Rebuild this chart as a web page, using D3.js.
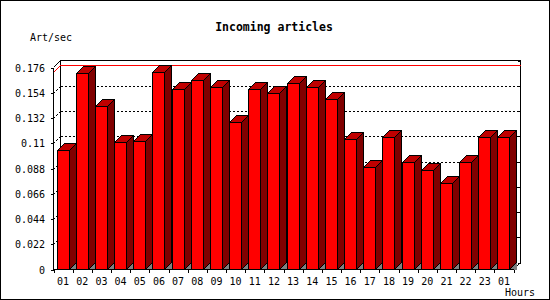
<!DOCTYPE html>
<html lang="en">
<head>
<meta charset="utf-8">
<title>Incoming articles</title>
<script src="https://cdn.jsdelivr.net/npm/d3@7"></script>
<style>
    body { margin: 0; background: #fff; }
    text { font-family: "DejaVu Sans Mono", monospace; fill: #000; }
    .title { font-size: 11.5px; font-weight: bold; }
    .lbl { font-size: 10px; }
</style>
</head>
<body>
<div id="chart"></div>
<script>
    // data
    const hours = ["01", "02", "03", "04", "05", "06", "07", "08", "09", "10", "11", "12",
        "13", "14", "15", "16", "17", "18", "19", "20", "21", "22", "23", "01"];
    const artPerSec = [0.1039, 0.1714, 0.1427, 0.1108, 0.1117, 0.1723, 0.1575, 0.1653,
        0.1592, 0.1282, 0.1575, 0.1540, 0.1627, 0.1592, 0.1488, 0.1140,
        0.0897, 0.1152, 0.0940, 0.0871, 0.0758, 0.0940, 0.1158, 0.1158];
    const yTicks = [0, 0.022, 0.044, 0.066, 0.088, 0.11, 0.132, 0.154, 0.176];

    const w = 550, h = 300;
    const plotLeft = 53.5, plotRight = 513.5, plotBottom = 269.5, plotTop = 67.5;
    const depth = 7;

    const svg = d3.select("#chart").append("svg")
        .attr("width", w).attr("height", h)
        .style("display", "block")
        .attr("shape-rendering", "crispEdges");

    const x = d3.scaleBand().domain(d3.range(hours.length)).range([plotLeft, plotRight]).padding(0);
    const y = d3.scaleLinear().domain([0, 0.176]).range([plotBottom, plotTop]);

    // outer frame
    svg.append("rect").attr("x", 0.5).attr("y", 0.5).attr("width", w - 1).attr("height", h - 1)
        .attr("fill", "#fff").attr("stroke", "#000");

    svg.append("text").attr("class", "title").attr("x", 274).attr("y", 31)
        .attr("text-anchor", "middle").text("Incoming articles");
    svg.append("text").attr("class", "lbl").attr("x", 30).attr("y", 41).text("Art/sec");

    // back wall grid (dotted), drawn behind the bars
    const grid = svg.append("g").attr("stroke", "#000").attr("stroke-dasharray", "2,2");
    yTicks.filter(function (d) { return d > 0 && d < 0.176; }).forEach(function (t) {
        const yy = Math.round(y(t)) + 0.5;
        grid.append("line").attr("x1", plotLeft + depth).attr("x2", plotRight + depth)
            .attr("y1", yy - depth).attr("y2", yy - depth);
        grid.append("line").attr("x1", plotLeft).attr("x2", plotLeft + depth)
            .attr("y1", yy).attr("y2", yy - depth);
    });

    // back wall edges
    svg.append("path").attr("fill", "none").attr("stroke", "#000")
        .attr("d", "M" + plotLeft + "," + plotTop + "L" + (plotLeft + depth) + "," + (plotTop - depth) +
            "H" + (plotRight + depth) + "V" + (plotBottom - depth) + "L" + plotRight + "," + plotBottom +
            "M" + (plotLeft + depth) + "," + (plotTop - depth) + "V" + (plotBottom - depth));

    // small ticks on the right back edge
    yTicks.forEach(function (t) {
        const yy = Math.round(y(t)) + 0.5 - depth;
        svg.append("line").attr("x1", plotRight + depth - 3).attr("x2", plotRight + depth)
            .attr("y1", yy).attr("y2", yy).attr("stroke", "#000");
    });

    // maximum line
    const maxY = Math.round(y(d3.max(artPerSec))) + 0.5;
    svg.append("path").attr("fill", "none").attr("stroke", "#ff0000")
        .attr("d", "M" + plotLeft + "," + maxY + "L" + (plotLeft + depth) + "," + (maxY - depth) +
            "H" + (plotRight + depth));

    // bars
    const bars = svg.append("g").attr("stroke", "#000").attr("stroke-linejoin", "miter");
    artPerSec.forEach(function (v, i) {
        const bx = Math.round(x(i) + 3) + 0.5;
        const bw = 12;
        const yt = Math.round(y(v)) + 0.5;
        const g = bars.append("g");
        g.append("path").attr("fill", "#808080").attr("stroke", "none")
            .attr("d", "M" + (bx + bw) + "," + plotBottom + "L" + (bx + bw + depth) + "," + (plotBottom - depth) +
                "V" + plotBottom + "Z");
        g.append("path").attr("fill", "#800000")
            .attr("d", "M" + (bx + bw) + "," + yt + "L" + (bx + bw + depth) + "," + (yt - depth) +
                "V" + (plotBottom - depth) + "L" + (bx + bw) + "," + plotBottom + "Z");
        g.append("path").attr("fill", "#c00000")
            .attr("d", "M" + bx + "," + yt + "H" + (bx + bw) + "L" + (bx + bw + depth) + "," + (yt - depth) +
                "H" + (bx + depth) + "Z");
        g.append("rect").attr("fill", "#ff0000")
            .attr("x", bx).attr("y", yt).attr("width", bw).attr("height", plotBottom - yt);
    });

    // front axes
    const axes = svg.append("g").attr("stroke", "#000");
    axes.append("line").attr("x1", plotLeft).attr("x2", plotLeft).attr("y1", plotTop).attr("y2", plotBottom);
    axes.append("line").attr("x1", plotLeft).attr("x2", plotRight).attr("y1", plotBottom).attr("y2", plotBottom);

    yTicks.forEach(function (t) {
        const yy = Math.round(y(t)) + 0.5;
        axes.append("line").attr("x1", plotLeft - 3).attr("x2", plotLeft).attr("y1", yy).attr("y2", yy);
        svg.append("text").attr("class", "lbl").attr("x", 45).attr("y", yy + 3.5)
            .attr("text-anchor", "end").text(d3.format("~g")(t));
    });

    d3.range(hours.length + 1).forEach(function (i) {
        const xx = Math.round(plotLeft + i * x.bandwidth()) + 0.5;
        axes.append("line").attr("x1", xx).attr("x2", xx).attr("y1", plotBottom).attr("y2", plotBottom + 3);
    });
    hours.forEach(function (hr, i) {
        svg.append("text").attr("class", "lbl").attr("x", x(i) + x.bandwidth() / 2)
            .attr("y", 284.5).attr("text-anchor", "middle").text(hr);
    });

    svg.append("text").attr("class", "lbl").attr("x", 535).attr("y", 296)
        .attr("text-anchor", "end").text("Hours");
</script>
</body>
</html>
